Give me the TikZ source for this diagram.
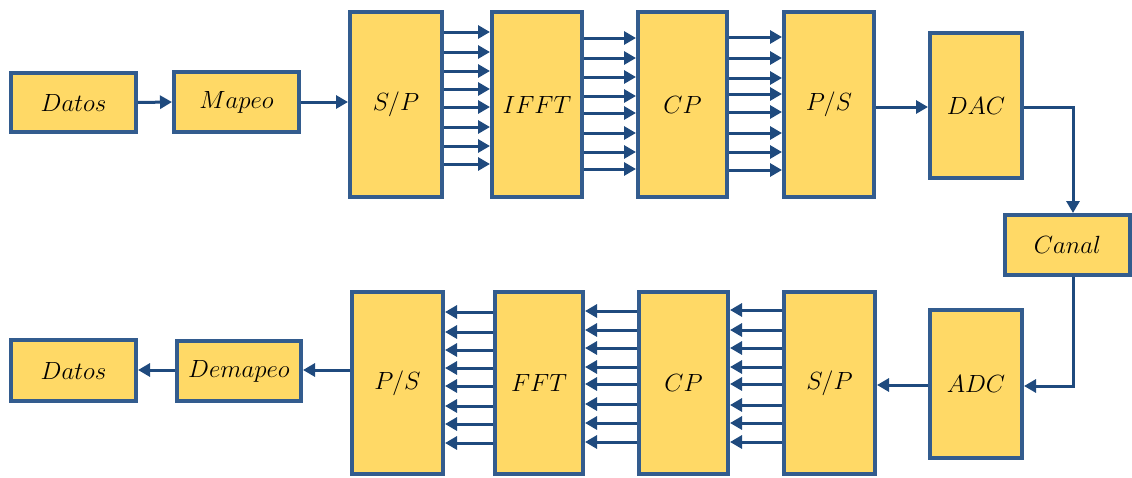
\documentclass[tikz,border=0pt]{standalone}
\usetikzlibrary{arrows.meta,calc}
\definecolor{boxfill}{HTML}{FFD966}
\definecolor{boxline}{HTML}{335C8E}
\definecolor{arrowc}{HTML}{1F4A7E}
\tikzset{
  blk/.style={draw=boxline, fill=boxfill, line width=4pt, inner sep=0pt,
    font=\fontsize{25}{29}\selectfont},
  conn/.style={draw=arrowc, line width=3pt, -{Triangle[length=12pt,width=13pt]}}
}
\begin{document}
\begin{tikzpicture}[x=1pt,y=-1pt]
\useasboundingbox (0,0) rectangle (1132,477);
% top row
\node[blk, minimum width=125pt, minimum height=59pt] (dat1) at (73.5,102.5) {$Datos$};
\node[blk, minimum width=125pt, minimum height=60pt] (map) at (236.5,102) {$Mapeo$};
\node[blk, minimum width=92pt, minimum height=185pt] (sp1) at (396,104.5) {$S/P$};
\node[blk, minimum width=90pt, minimum height=185pt] (ifft) at (537,104.5) {$IFFT$};
\node[blk, minimum width=89pt, minimum height=185pt] (cp1) at (682.5,104.5) {$CP$};
\node[blk, minimum width=90pt, minimum height=185pt] (ps1) at (829,104.5) {$P/S$};
\node[blk, minimum width=92pt, minimum height=145pt] (dac) at (976,105.5) {$DAC$};
\node[blk, minimum width=125pt, minimum height=60pt] (canal) at (1067.5,245) {$Canal$};
\node[blk, minimum width=92pt, minimum height=148pt] (adc) at (976,384) {$ADC$};
% bottom row
\node[blk, minimum width=91pt, minimum height=182pt] (sp2) at (829.5,383) {$S/P$};
\node[blk, minimum width=89pt, minimum height=182pt] (cp2) at (683.5,383) {$CP$};
\node[blk, minimum width=88pt, minimum height=182pt] (fft) at (539,383) {$FFT$};
\node[blk, minimum width=91pt, minimum height=182pt] (ps2) at (397.5,383) {$P/S$};
\node[blk, minimum width=124pt, minimum height=60pt] (dem) at (239,371) {$Demapeo$};
\node[blk, minimum width=125pt, minimum height=61pt] (dat2) at (73.5,370.5) {$Datos$};
% top connectors
\draw[conn] (dat1.east) -- (map.west);
\draw[conn] (map.east) -- (sp1.west |- map.east);
\foreach \y in {32,52,71,89,107,127,146,164}
  \draw[conn] (sp1.east |- 0,\y) -- (ifft.west |- 0,\y);
\foreach \y in {38,58,77,96,113,133,152,169}
  \draw[conn] (ifft.east |- 0,\y) -- (cp1.west |- 0,\y);
\foreach \y in {37,58,78,94,112,133,152,170}
  \draw[conn] (cp1.east |- 0,\y) -- (ps1.west |- 0,\y);
\draw[conn] (ps1.east |- 0,107) -- (dac.west |- 0,107);
\coordinate (cn) at ([xshift=5.5pt]canal.north);
\coordinate (cs) at ([xshift=5.5pt]canal.south);
\draw[conn] (dac.east |- 0,107) -| (cn);
\draw[conn] (cs) |- (adc.east |- 0,386);
% bottom connectors
\draw[conn] (adc.west |- 0,385) -- (sp2.east |- 0,385);
\foreach \y in {310,330,348,367,384,405,423,442}
  \draw[conn] (sp2.west |- 0,\y) -- (cp2.east |- 0,\y);
\foreach \y in {311,330,348,367,384,404,423,442}
  \draw[conn] (cp2.west |- 0,\y) -- (fft.east |- 0,\y);
\foreach \y in {312,332,350,368,386,406,424,443}
  \draw[conn] (fft.west |- 0,\y) -- (ps2.east |- 0,\y);
\draw[conn] (ps2.west |- 0,370) -- (dem.east |- 0,370);
\draw[conn] (dem.west |- 0,370) -- (dat2.east |- 0,370);
\end{tikzpicture}
\end{document}
